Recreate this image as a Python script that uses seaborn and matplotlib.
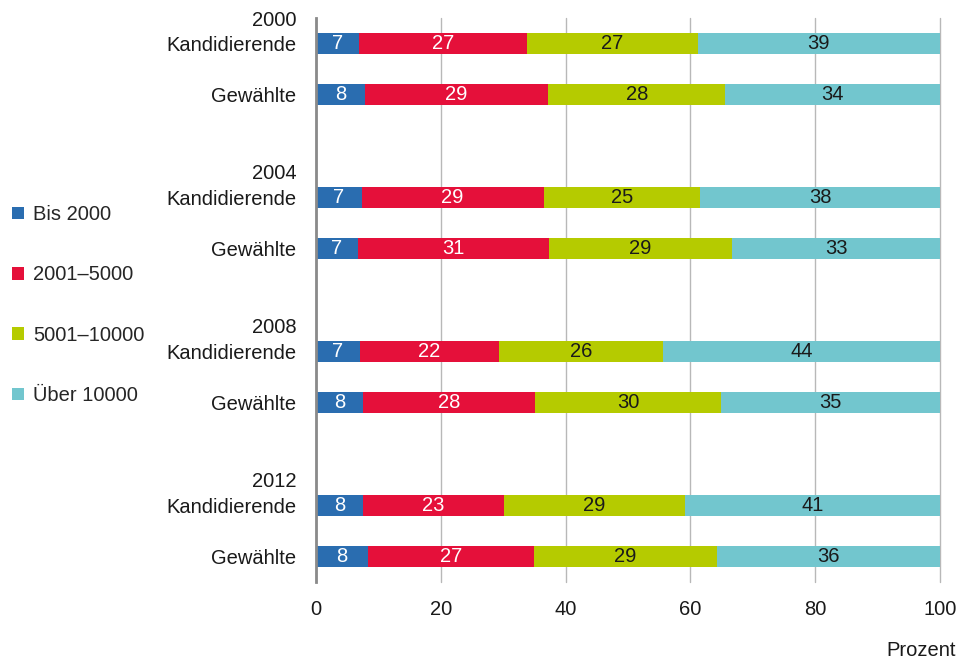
import numpy as np
import pandas as pd
import seaborn as sns
import matplotlib.pyplot as plt
from matplotlib.patches import Patch

# income bands (Euro) of candidates and elected members, shares in percent
years = ["2000", "2004", "2008", "2012"]
groups = ["Kandidierende", "Gewählte"]
bands = ["Bis 2000", "2001\u20135000", "5001\u201310000", "Über 10000"]

bis_2000 = [6.9, 7.8, 7.3, 6.7, 7.0, 7.5, 7.5, 8.3]
b_2001_5000 = [26.9, 29.4, 29.2, 30.6, 22.3, 27.6, 22.6, 26.7]
b_5001_10000 = [27.4, 28.4, 25.1, 29.4, 26.3, 29.8, 29.0, 29.2]
ueber_10000 = [38.8, 34.4, 38.4, 33.3, 44.4, 35.1, 40.9, 35.8]

colors = ["#2a6db0", "#e5103a", "#b5cb00", "#72c6ce"]
text_colors = ["white", "white", "#1a1a1a", "#1a1a1a"]

sns.set_theme(style="white")
plt.rcParams["font.family"] = ["Liberation Sans", "DejaVu Sans"]
FS = 14.5

# row positions: two bars per year, one empty slot between years
pos = []
for i in range(len(years)):
    pos += [3 * i, 3 * i + 1]

df = pd.DataFrame({"pos": pos, bands[0]: bis_2000, bands[1]: b_2001_5000,
                   bands[2]: b_5001_10000, bands[3]: ueber_10000})
cum = df[bands].cumsum(axis=1)

fig = plt.figure(figsize=(9.6, 6.59), dpi=100)
ax = fig.add_axes([316 / 960, 1 - 582 / 659, 624 / 960, 564 / 659])

# stacked bars: draw cumulative totals from the back to the front
for band, col in reversed(list(zip(bands, colors))):
    sns.barplot(x=cum[band], y=df["pos"], orient="h", native_scale=True,
                color=col, saturation=1, width=0.41, errorbar=None,
                linewidth=0, ax=ax, zorder=3)

# value labels in the middle of each segment
for band, tc in zip(bands, text_colors):
    mids = cum[band] - df[band] / 2
    for y, m, v in zip(df["pos"], mids, df[band]):
        ax.text(m, y, f"{v:.0f}", ha="center", va="center", color=tc,
                fontsize=FS, zorder=4)

ax.set_xlim(0, 100)
ax.set_ylim(10.5, -0.5)
ax.set_xticks([0, 20, 40, 60, 80, 100])
ax.set_yticks(pos)
ax.set_yticklabels(groups * len(years))
ax.tick_params(axis="both", length=0, labelsize=FS, colors="#1a1a1a")
ax.tick_params(axis="y", pad=14)
ax.tick_params(axis="x", pad=13)
ax.set_xlabel("")
ax.set_ylabel("")

ax.grid(axis="x", color="#b8b8b8", linewidth=1)
for line in ax.get_xgridlines():
    line.set_clip_on(False)
ax.set_axisbelow(True)
for side in ["top", "right", "bottom"]:
    ax.spines[side].set_visible(False)
ax.spines["left"].set_color("#8a8a8a")
ax.spines["left"].set_linewidth(2)
ax.spines["left"].set_zorder(5)

# year above each pair
for i, yr in enumerate(years):
    ax.annotate(yr, xy=(0, 3 * i - 0.46), xycoords=("axes fraction", "data"),
                xytext=(-14, 0), textcoords="offset points",
                ha="right", va="center", fontsize=FS, color="#1a1a1a")

handles = [Patch(facecolor=c, edgecolor="none") for c in colors]
fig.legend(handles, bands, loc="center left", bbox_to_anchor=(0.0125, 0.537),
           frameon=False, fontsize=FS, handlelength=0.6, handleheight=0.6,
           handletextpad=0.45, labelspacing=2.05, borderpad=0, borderaxespad=0)

fig.text(956 / 960, 1 - 650 / 659, "Prozent", ha="right", va="center",
         fontsize=FS, color="#1a1a1a")

fig.savefig("out.png", dpi=100)
